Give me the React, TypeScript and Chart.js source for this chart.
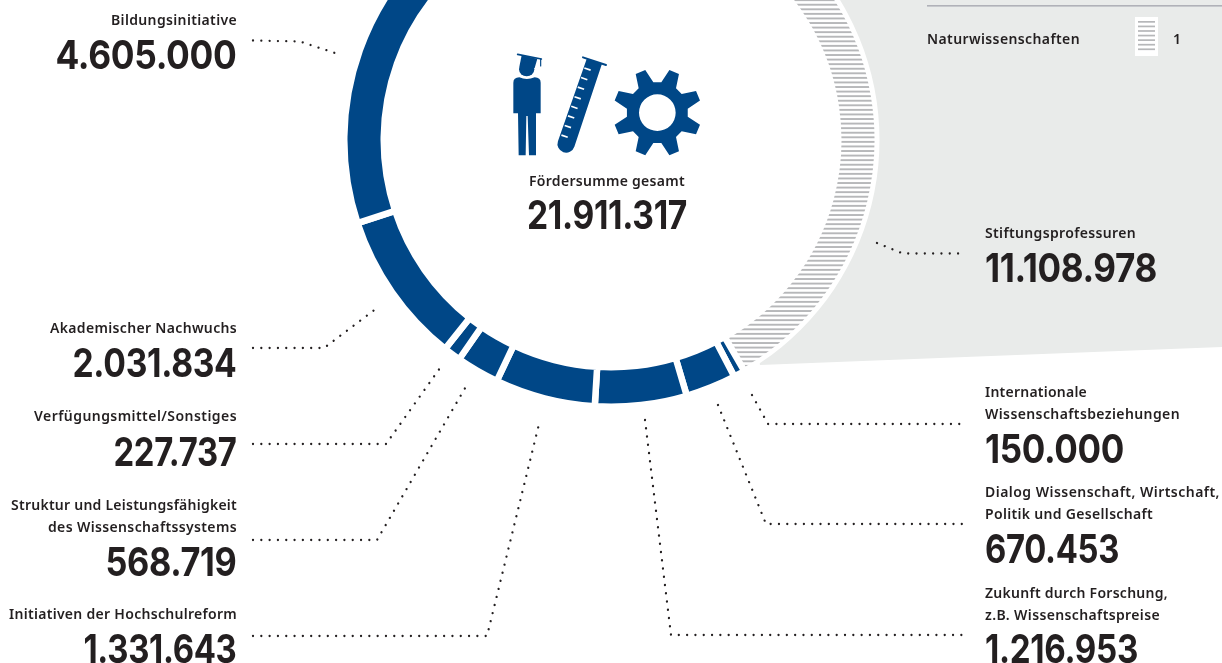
import React, { useEffect, useRef } from "react";
import { Chart, registerables } from "chart.js";

Chart.register(...registerables);

// ---- data ----
const categories = [
  "Stiftungsprofessuren",
  "Internationale Wissenschaftsbeziehungen",
  "Dialog Wissenschaft, Wirtschaft, Politik und Gesellschaft",
  "Zukunft durch Forschung, z.B. Wissenschaftspreise",
  "Initiativen der Hochschulreform",
  "Struktur und Leistungsfähigkeit des Wissenschaftssystems",
  "Verfügungsmittel/Sonstiges",
  "Akademischer Nachwuchs",
  "Bildungsinitiative",
];
const values = [11108978, 150000, 670453, 1216953, 1331643, 568719, 227737, 2031834, 4605000];
const totalLabel = "Fördersumme gesamt";
const legendLabel = "Naturwissenschaften";
const legendCount = "1";

// ---- layout (not data) ----
const W = 1222;
const H = 663;
const CX = 611.5;
const CY = 140;
const R_OUT = 263.5;
const R_IN = 230.5;
const GAP = 6.5;
const ROTATION = -32.5;
const BLUE = "#004787";
const INK = "#231f20";
const GREY = "#e9ebea";
const STRIPE = "#b6b7b9";
const LABEL_FONT = '600 14px "Noto Sans"';
const NUM_FONT = '700 40px "Inter"';

type Layout = { lines: string[]; lineY: number[]; lineW: number[]; numY: number; numW: number; x: number; align: CanvasTextAlign; leader: number[][] };
const layouts: Layout[] = [
  { lines: ["Stiftungsprofessuren"], lineY: [233], lineW: [151], numY: 281.5, numW: 172, x: 985, align: "left", leader: [[877, 243], [903, 253.5], [965, 253.5]] },
  { lines: ["Internationale", "Wissenschaftsbeziehungen"], lineY: [392, 414], lineW: [102, 195], numY: 462.5, numW: 139, x: 985, align: "left", leader: [[752, 395], [768, 424], [965, 424]] },
  { lines: ["Dialog Wissenschaft, Wirtschaft,", "Politik und Gesellschaft"], lineY: [492, 514], lineW: [235, 168], numY: 562.5, numW: 134, x: 985, align: "left", leader: [[718, 405], [766, 524], [965, 524]] },
  { lines: ["Zukunft durch Forschung,", "z.B. Wissenschaftspreise"], lineY: [593, 615], lineW: [183, 175], numY: 662.5, numW: 153, x: 985, align: "left", leader: [[645, 420], [671, 635], [965, 635]] },
  { lines: ["Initiativen der Hochschulreform"], lineY: [614], lineW: [228], numY: 662.5, numW: 153, x: 236.5, align: "right", leader: [[253, 636], [487, 636], [540, 420]] },
  { lines: ["Struktur und Leistungsfähigkeit", "des Wissenschaftssystems"], lineY: [505, 527], lineW: [226, 189], numY: 575.5, numW: 131, x: 236.5, align: "right", leader: [[253, 540], [377, 540], [468, 383]] },
  { lines: ["Verfügungsmittel/Sonstiges"], lineY: [416], lineW: [203], numY: 465.5, numW: 123, x: 236.5, align: "right", leader: [[253, 444], [386, 444], [440, 368]] },
  { lines: ["Akademischer Nachwuchs"], lineY: [328], lineW: [187], numY: 376.5, numW: 164, x: 236.5, align: "right", leader: [[253, 348], [324, 348], [377, 308]] },
  { lines: ["Bildungsinitiative"], lineY: [20], lineW: [126], numY: 68.5, numW: 181, x: 236.5, align: "right", leader: [[253, 40.5], [300, 41.5], [338, 54]] },
];

const fmt = (n: number) => String(n).replace(/\B(?=(\d{3})+(?!\d))/g, ".");

function stripePattern(): CanvasPattern | string {
  const c = document.createElement("canvas");
  c.width = 8;
  c.height = 32;
  const g = c.getContext("2d");
  if (!g) return STRIPE;
  g.fillStyle = STRIPE;
  for (let i = -1; i < 7; i++) g.fillRect(0, (i * 32) / 7 + 3.775, 8, 1.9);
  return g.createPattern(c, "repeat") || STRIPE;
}

function drawIcons(ctx: CanvasRenderingContext2D) {
  ctx.save();
  ctx.translate(500, 40);
  ctx.scale(1 / 3, 1 / 3);
  ctx.fillStyle = BLUE;
  ctx.strokeStyle = BLUE;
  // person: cap
  ctx.lineWidth = 5;
  ctx.beginPath();
  ctx.moveTo(53, 43);
  ctx.lineTo(124, 57);
  ctx.stroke();
  ctx.lineWidth = 3.5;
  ctx.beginPath();
  ctx.moveTo(122, 57);
  ctx.lineTo(122, 78);
  ctx.stroke();
  ctx.beginPath();
  ctx.moveTo(65, 46);
  ctx.lineTo(112, 56);
  ctx.lineTo(104, 84);
  ctx.lineTo(58, 80);
  ctx.closePath();
  ctx.fill();
  // head
  ctx.beginPath();
  ctx.ellipse(80, 88, 23, 21, 0, 0, Math.PI * 2);
  ctx.fill();
  // body
  ctx.beginPath();
  ctx.moveTo(40, 128);
  ctx.quadraticCurveTo(40, 113, 58, 112);
  ctx.quadraticCurveTo(80, 122, 104, 112);
  ctx.quadraticCurveTo(122, 113, 122, 128);
  ctx.lineTo(122, 220);
  ctx.lineTo(108, 220);
  ctx.lineTo(108, 346);
  ctx.lineTo(87, 346);
  ctx.lineTo(83, 228);
  ctx.lineTo(79, 228);
  ctx.lineTo(77, 346);
  ctx.lineTo(56, 346);
  ctx.lineTo(54, 220);
  ctx.lineTo(40, 220);
  ctx.closePath();
  ctx.fill();

  // tube
  ctx.lineWidth = 6;
  ctx.beginPath();
  ctx.moveTo(249, 52);
  ctx.lineTo(318, 75);
  ctx.stroke();
  const a = Math.atan2(-88, 258);
  ctx.save();
  ctx.translate(283, 64);
  ctx.rotate(-a);
  ctx.beginPath();
  ctx.moveTo(-24, 0);
  ctx.lineTo(-26, 262);
  ctx.arc(0, 262, 26, Math.PI, 0, true);
  ctx.lineTo(24, 0);
  ctx.closePath();
  ctx.fill();
  ctx.fillStyle = "#fff";
  for (let i = 0; i < 8; i++) {
    ctx.fillRect(-22, 26 + i * 30.4, 20, 5);
  }
  ctx.restore();

  // gear
  const gx = 472;
  const gy = 218;
  const deg = Math.PI / 180;
  ctx.beginPath();
  for (let i = 0; i < 8; i++) {
    const t = (i * 45 + 22.5) * deg;
    [[-15, 92], [-6.7, 133], [6.7, 133], [15, 92]].forEach(([da, r], k) => {
      const x = gx + r * Math.cos(t + da * deg);
      const y = gy + r * Math.sin(t + da * deg);
      if (i === 0 && k === 0) ctx.moveTo(x, y);
      else ctx.lineTo(x, y);
    });
  }
  ctx.closePath();
  ctx.moveTo(gx + 55, gy);
  ctx.arc(gx, gy, 55, 0, Math.PI * 2, true);
  ctx.fill("evenodd");
  ctx.restore();
}

function text(ctx: CanvasRenderingContext2D, s: string, x: number, y: number, font: string, align: CanvasTextAlign, spacing: string, baseline: CanvasTextBaseline) {
  ctx.font = font;
  ctx.textAlign = align;
  ctx.textBaseline = baseline;
  (ctx as any).letterSpacing = spacing;
  ctx.fillText(s, x, y);
}

function fitLabel(ctx: CanvasRenderingContext2D, s: string, x: number, y: number, align: CanvasTextAlign, width: number) {
  ctx.font = LABEL_FONT;
  (ctx as any).letterSpacing = "0px";
  const natural = ctx.measureText(s).width;
  const sp = (width - natural) / s.length;
  text(ctx, s, x, y, LABEL_FONT, align, `${sp.toFixed(3)}px`, "middle");
}

function fitNumber(ctx: CanvasRenderingContext2D, s: string, x: number, y: number, align: CanvasTextAlign, width: number) {
  ctx.font = NUM_FONT;
  (ctx as any).letterSpacing = "-0.4px";
  const natural = ctx.measureText(s).width;
  ctx.save();
  ctx.translate(x, y);
  ctx.scale(width / natural, 1);
  text(ctx, s, 0, 0, NUM_FONT, align, "-0.4px", "alphabetic");
  ctx.restore();
}

const artPlugin = {
  id: "art",
  afterDatasetsDraw(chart: any) {
    const ctx: CanvasRenderingContext2D = chart.ctx;
    ctx.save();
    // grey panel, with the disc around the ring left out
    ctx.save();
    ctx.beginPath();
    ctx.rect(0, 0, W, H);
    ctx.arc(CX, CY, R_OUT + 4.5, 0, Math.PI * 2);
    ctx.clip("evenodd");
    ctx.fillStyle = GREY;
    ctx.beginPath();
    ctx.moveTo(700, 0);
    ctx.lineTo(W, 0);
    ctx.lineTo(W, 347);
    ctx.lineTo(760, 365);
    ctx.closePath();
    ctx.fill();
    ctx.restore();
    // leaders
    ctx.strokeStyle = INK;
    ctx.lineWidth = 2.3;
    ctx.lineCap = "round";
    ctx.setLineDash([0.01, 8.3]);
    layouts.forEach((l) => {
      ctx.beginPath();
      l.leader.forEach(([x, y], i) => (i ? ctx.lineTo(x, y) : ctx.moveTo(x, y)));
      ctx.stroke();
    });
    ctx.setLineDash([]);
    // labels
    ctx.fillStyle = INK;
    layouts.forEach((l, i) => {
      l.lines.forEach((s, k) => fitLabel(ctx, s, l.align === "right" ? l.x + 0.5 : l.x, l.lineY[k] + 1, l.align, l.lineW[k]));
      fitNumber(ctx, fmt(values[i]), l.x, l.numY, l.align, l.numW);
    });
    // centre
    fitLabel(ctx, totalLabel, 607, 182, "center", 156);
    const total = values.reduce((a, b) => a + b, 0);
    fitNumber(ctx, fmt(total), 607, 229, "center", 160);
    // legend
    ctx.fillStyle = "#b0b1b8";
    ctx.fillRect(927, 5, W - 927, 1.6);
    ctx.fillStyle = "#fff";
    ctx.fillRect(1135, 17, 23, 39);
    ctx.fillStyle = STRIPE;
    for (let i = 0; i < 7; i++) ctx.fillRect(1138, 21 + i * 4.57, 17, 1.7);
    ctx.fillStyle = INK;
    fitLabel(ctx, legendLabel, 927, 40, "left", 153);
    text(ctx, legendCount, 1173, 40, LABEL_FONT, "left", "0px", "middle");
    drawIcons(ctx);
    ctx.restore();
  },
};

export default function App() {
  const ref = useRef<HTMLCanvasElement>(null);
  useEffect(() => {
    document.body.style.margin = "0";
    document.body.style.overflow = "hidden";
    const pattern = stripePattern();
    const chart = new Chart(ref.current as HTMLCanvasElement, {
      type: "doughnut",
      data: {
        labels: categories,
        datasets: [
          {
            data: values,
            backgroundColor: values.map((_, i) => (i === 0 ? pattern : BLUE)) as any,
            borderColor: "#ffffff",
            borderWidth: GAP,
          },
        ],
      },
      options: {
        animation: false,
        responsive: false,
        events: [],
        rotation: ROTATION,
        radius: R_OUT + GAP / 2,
        cutout: `${(100 * (R_IN - GAP / 2)) / (R_OUT + GAP / 2)}%`,
        layout: { padding: { left: 0, right: W - 2 * CX, top: 0, bottom: H - 2 * CY } },
        plugins: { legend: { display: false }, tooltip: { enabled: false } },
      } as any,
      plugins: [artPlugin],
    });
    return () => chart.destroy();
  }, []);
  return (
    <div style={{ position: "relative", width: W, height: H, overflow: "hidden", background: "#fff" }}>
      <canvas ref={ref} width={W} height={H} style={{ display: "block", width: W, height: H }} />
    </div>
  );
}
